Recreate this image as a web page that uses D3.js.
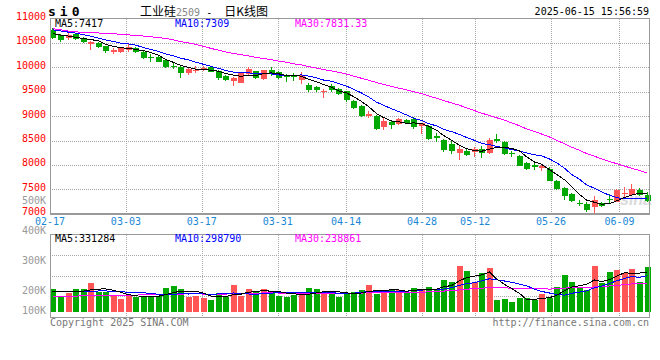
<!DOCTYPE html>
<html><head><meta charset="utf-8">
<script src="https://cdn.jsdelivr.net/npm/d3@7"></script>
<style>
body{margin:0;background:#fff}
svg{display:block}
text{font-family:"DejaVu Sans Mono",monospace;font-size:10px}
</style>
</head><body>
<svg id="c" width="660" height="360"></svg>
<script>
// ---------- data ----------
const dates = ["02-17","02-18","02-19","02-20","02-21","02-24","02-25","02-26","02-27","02-28",
"03-03","03-04","03-05","03-06","03-07","03-10","03-11","03-12","03-13","03-14",
"03-17","03-18","03-19","03-20","03-21","03-24","03-25","03-26","03-27","03-28",
"03-31","04-01","04-02","04-03","04-07","04-08","04-09","04-10","04-11",
"04-14","04-15","04-16","04-17","04-18","04-21","04-22","04-23","04-24","04-25",
"04-28","04-29","04-30","05-06","05-07","05-08","05-09",
"05-12","05-13","05-14","05-15","05-16","05-19","05-20","05-21","05-22","05-23",
"05-26","05-27","05-28","05-29","05-30","06-03","06-04","06-05","06-06",
"06-09","06-10","06-11","06-12","06-13"];
const openP = [10773,10670,10602,10677,10595,10495,10493,10432,10309,10309,
10364,10405,10323,10214,10220,10145,10030,10002,9886,9920,
9950,10000,9932,9829,9720,9686,9864,9918,9760,9945,
9900,9830,9840,9737,9640,9590,9500,9620,9550,9510,
9310,9210,9020,9009,8784,8886,8832,8920,8941,8800,
8804,8600,8511,8436,8252,8293,8270,8327,8252,8532,
8462,8250,8186,8040,7988,7945,7916,7675,7525,7410,
7225,7198,7130,7215,7305,7248,7420,7390,7489,7385];
const highP = [10800,10690,10718,10695,10616,10530,10510,10445,10390,10425,
10500,10420,10345,10268,10240,10160,10085,10020,9990,10020,
10020,10010,9945,9840,9809,9890,10000,9930,9950,10000,
9915,9870,9880,9904,9680,9610,9560,9650,9580,9520,
9330,9225,9110,9030,8968,8900,8955,8935,8975,8866,
8820,8647,8525,8511,8409,8327,8375,8388,8560,8634,
8480,8290,8200,8050,8045,8020,7950,7690,7540,7425,
7280,7240,7363,7240,7400,7500,7541,7600,7520,7454];
const lowP = [10590,10514,10568,10568,10500,10360,10390,10295,10275,10295,
10323,10300,10160,10118,10105,9990,9970,9777,9850,9890,
9920,9900,9741,9720,9618,9670,9840,9770,9740,9830,
9770,9700,9720,9659,9500,9490,9380,9500,9430,9290,
9150,8990,8970,8720,8716,8736,8820,8840,8736,8634,
8520,8477,8272,8225,8102,8184,8170,8150,8231,8457,
8200,8154,7975,7890,7895,7870,7660,7495,7290,7245,
7165,7036,7009,7145,7195,7240,7352,7380,7370,7250];
const closeP = [10602,10568,10670,10582,10527,10510,10411,10330,10364,10398,
10425,10323,10193,10186,10118,10002,10005,9886,9968,9948,
9995,9911,9775,9741,9782,9880,9970,9784,9935,9855,
9790,9800,9800,9840,9540,9540,9510,9545,9460,9320,
9170,9005,9035,8736,8907,8818,8941,8852,8784,8852,
8532,8545,8306,8293,8327,8204,8334,8238,8511,8500,
8216,8225,7984,7912,7960,7985,7675,7500,7355,7255,
7200,7080,7280,7168,7290,7489,7434,7515,7386,7265];
const volume = [188000,129000,159000,188000,188000,240000,163000,167000,134000,104000,
134000,124000,128000,124000,129000,196000,213000,188000,124000,129000,
115000,96000,154000,121000,221000,129000,188000,163000,188000,171000,
129000,121000,138000,138000,196000,188000,163000,154000,121000,154000,
165000,182000,221000,146000,171000,188000,180000,160000,196000,182000,
205000,188000,265000,246000,380000,338000,249000,322000,365000,96000,
104000,79000,113000,113000,96000,146000,113000,205000,308000,246000,
205000,180000,380000,238000,330000,350000,324000,358000,248000,376000];
// moving-average values for the first days (window not yet full)
const ma5Lead  = [10690,10660,10640,10615];
const ma10Lead = [10770,10745,10720,10700,10670,10640,10600,10560,10530];
const ma30Lead = [10790,10770,10740,10728,10715,10708,10703,10698,10688,10675,10664,10652,10640,10625,10610,
10592,10560,10525,10500,10470,10430,10390,10350,10315,10285,10262,10232,10205,10180];
const vma5Lead  = [166000,165000,165000,168000];
const vma10Lead = [164000,164000,165000,165000,166000,168000,172000,172000,170000];
const vma30Lead = [127000,127000,127000,127000,135000,135000,135000,135000,135000,135000,136000,137000,140000,140000,140000,
140000,142000,145000,148000,148000,146000,145000,145000,146000,148000,150000,152000,154000,155000];

const priceTicks = [7000,7500,8000,8500,9000,9500,10000,10500,11000];
const volTicks = [500000,400000,300000,200000,100000];
const volTickLabels = ["500K","400K","300K","200K","100K"];
const dateTicks = ["02-17","03-03","03-17","03-31","04-14","04-28","05-12","05-26","06-09"];
const priceMaLabels = ["MA5:7417","MA10:7309","MA30:7831.33"];
const volMaLabels = ["MA5:331284","MA10:298790","MA30:238861"];
const titleParts = ["工业硅","2509"," -  ","日K线图"];
const symbol = "si0";
const stamp = "2025-06-15 15:56:59";
const footLeft = "Copyright 2025 SINA.COM";
const footRight = "http://finance.sina.com.cn";

// ---------- layout ----------
const RED = "#ff5555", GREEN = "#00a800";
const maColors = ["#000000","#0000ff","#ff00ff"];
const L = 50, R = 649.5;
const PT = 18.5, PB = 213.7;
const VT = 234.5, VB = 317, VBASE = 311.5;
const n = dates.length;

const svg = d3.select("#c");
const x = d3.scaleBand().domain(d3.range(n)).range([49.2, 650.8]);
const cx = i => Math.floor(x(i) + x.bandwidth()/2);
const xGrid = d3.scaleLinear().domain([0, n-1]).range([L, R+0.3]);
const y = d3.scaleLinear().domain([7000, 11000]).range([PB, PT]);
const yv = d3.scaleLinear().domain([0, 644600]).range([VBASE, VT]);
const yvLabel = d3.scaleLinear().domain([200000, 500000]).range([294, 203.6]);

function ma(arr, w, lead){
  return arr.map((_, i) => i < w-1 ? lead[i] : d3.mean(arr.slice(i-w+1, i+1)));
}
const pMA = [ma(closeP,5,ma5Lead), ma(closeP,10,ma10Lead), ma(closeP,30,ma30Lead)];
const vMA = [ma(volume,5,vma5Lead), ma(volume,10,vma10Lead), ma(volume,30,vma30Lead)];

svg.append("rect").attr("width",660).attr("height",360).attr("fill","#fff");

const tickIdx = dateTicks.map(d => dates.indexOf(d));

// grid - price
const grid = svg.append("g").attr("stroke","#a8a8a8").attr("stroke-dasharray","1,1").attr("shape-rendering","crispEdges");
grid.selectAll(".hp").data(priceTicks.filter(v => v > 7000 && v < 11000)).join("line")
  .attr("x1",L).attr("x2",R).attr("y1",d=>Math.round(y(d))+0.5).attr("y2",d=>Math.round(y(d))+0.5);
grid.selectAll(".vp").data(tickIdx.filter(i=>i>0)).join("line")
  .attr("x1",d=>Math.round(xGrid(d))+0.5).attr("x2",d=>Math.round(xGrid(d))+0.5).attr("y1",PT).attr("y2",PB);
// grid - volume
const vq = d3.scaleLinear().domain([0,4]).range([VT, VB]);
grid.selectAll(".hv").data([1,2,3]).join("line")
  .attr("x1",L).attr("x2",R).attr("y1",d=>Math.round(vq(d))+0.5).attr("y2",d=>Math.round(vq(d))+0.5);
grid.selectAll(".vv").data(tickIdx.filter(i=>i>0)).join("line")
  .attr("x1",d=>Math.round(xGrid(d))+0.5).attr("x2",d=>Math.round(xGrid(d))+0.5).attr("y1",VT).attr("y2",VB);

// watermark
svg.append("text").attr("x",620).attr("y",205).attr("fill","#dadada")
  .style("font-family","'Liberation Sans',Arial,sans-serif").style("font-size","16px")
  .style("font-weight","bold").style("font-style","italic").text("sina");

// candles
const isUp = i => closeP[i] >= openP[i];
const cg = svg.append("g").attr("shape-rendering","crispEdges");
cg.selectAll("line").data(d3.range(n)).join("line")
  .attr("x1",i=>cx(i)+0.5).attr("x2",i=>cx(i)+0.5)
  .attr("y1",i=>y(highP[i])).attr("y2",i=>y(lowP[i]))
  .attr("stroke",i=>isUp(i)?RED:GREEN);
cg.selectAll("rect").data(d3.range(n)).join("rect")
  .attr("x",i=>cx(i)-2.5).attr("width",6)
  .attr("y",i=>y(Math.max(openP[i],closeP[i])))
  .attr("height",i=>Math.max(1.2, Math.abs(y(openP[i])-y(closeP[i]))))
  .attr("fill",i=>isUp(i)?RED:GREEN);

// volume bars
svg.append("g").attr("shape-rendering","crispEdges")
  .selectAll("rect").data(d3.range(n)).join("rect")
  .attr("x",i=>cx(i)-2.5).attr("width",6)
  .attr("y",i=>yv(volume[i])).attr("height",i=>VBASE-yv(volume[i]))
  .attr("fill",i=>isUp(i)?RED:GREEN);

// MA lines
const lp = d3.line().x((d,i)=>cx(i)+0.5).y(d=>y(d));
const lv = d3.line().x((d,i)=>cx(i)+0.5).y(d=>yv(d));
[2,1,0].forEach(k=>{
  svg.append("path").attr("d",lp(pMA[k])).attr("fill","none").attr("stroke",maColors[k])
    .attr("stroke-width",1).attr("shape-rendering","crispEdges");
  svg.append("path").attr("d",lv(vMA[k])).attr("fill","none").attr("stroke",maColors[k])
    .attr("stroke-width",1).attr("shape-rendering","crispEdges");
});

// frames
const fr = svg.append("g").attr("fill","none").attr("stroke","#9a9a9a").attr("shape-rendering","crispEdges");
fr.append("rect").attr("x",L).attr("y",PT).attr("width",R-L).attr("height",PB-PT);
fr.append("line").attr("x1",L).attr("x2",R).attr("y1",PB+0.5).attr("y2",PB+0.5).attr("stroke-width",2);
fr.append("rect").attr("x",L).attr("y",VT).attr("width",R-L).attr("height",VB-VT);

// price axis labels
svg.append("g").selectAll("text").data(priceTicks).join("text")
  .attr("x",46).attr("y",d=>y(d)+1.5).attr("text-anchor","end").attr("fill","#ff0000").text(d=>d);
// volume axis labels
svg.append("g").selectAll("text").data(volTicks).join("text")
  .attr("x",46).attr("y",d=>Math.min(yvLabel(d), 313.6)).attr("text-anchor","end").attr("fill","#999999")
  .text((d,i)=>volTickLabels[i]);
// date labels
svg.append("g").selectAll("text").data(dateTicks).join("text")
  .attr("x",d=>xGrid(dates.indexOf(d))).attr("y",225).attr("text-anchor","middle").attr("fill","#1a88d6").text(d=>d);

// MA legends
[55,175,295].forEach((xx,k)=>{
  svg.append("text").attr("x",xx).attr("y",26.5).attr("fill",maColors[k]).text(priceMaLabels[k]);
  svg.append("text").attr("x",xx).attr("y",241.5).attr("fill",maColors[k]).text(volMaLabels[k]);
});

// header
svg.append("text").attr("x",48).attr("y",15.5).style("font-size","13px").style("font-weight","bold")
  .style("letter-spacing","4px").attr("fill","#000").text(symbol);
const t = svg.append("text").attr("x",140).attr("y",15.5);
t.append("tspan").style("font-family","'Noto Sans CJK SC',sans-serif").style("font-size","12px").attr("fill","#000").text(titleParts[0]);
t.append("tspan").attr("fill","#888").text(titleParts[1]);
t.append("tspan").attr("fill","#000").style("white-space","pre").attr("xml:space","preserve").text(titleParts[2]);
t.append("tspan").style("font-family","'Noto Sans CJK SC',sans-serif").style("font-size","12px").attr("fill","#000").text(titleParts[3]);
svg.append("text").attr("x",649).attr("y",15).attr("text-anchor","end").attr("fill","#000").text(stamp);

// footer
svg.append("text").attr("x",50).attr("y",326).attr("fill","#777").text(footLeft);
svg.append("text").attr("x",649).attr("y",326).attr("text-anchor","end").attr("fill","#777").text(footRight);
</script>
</body></html>
